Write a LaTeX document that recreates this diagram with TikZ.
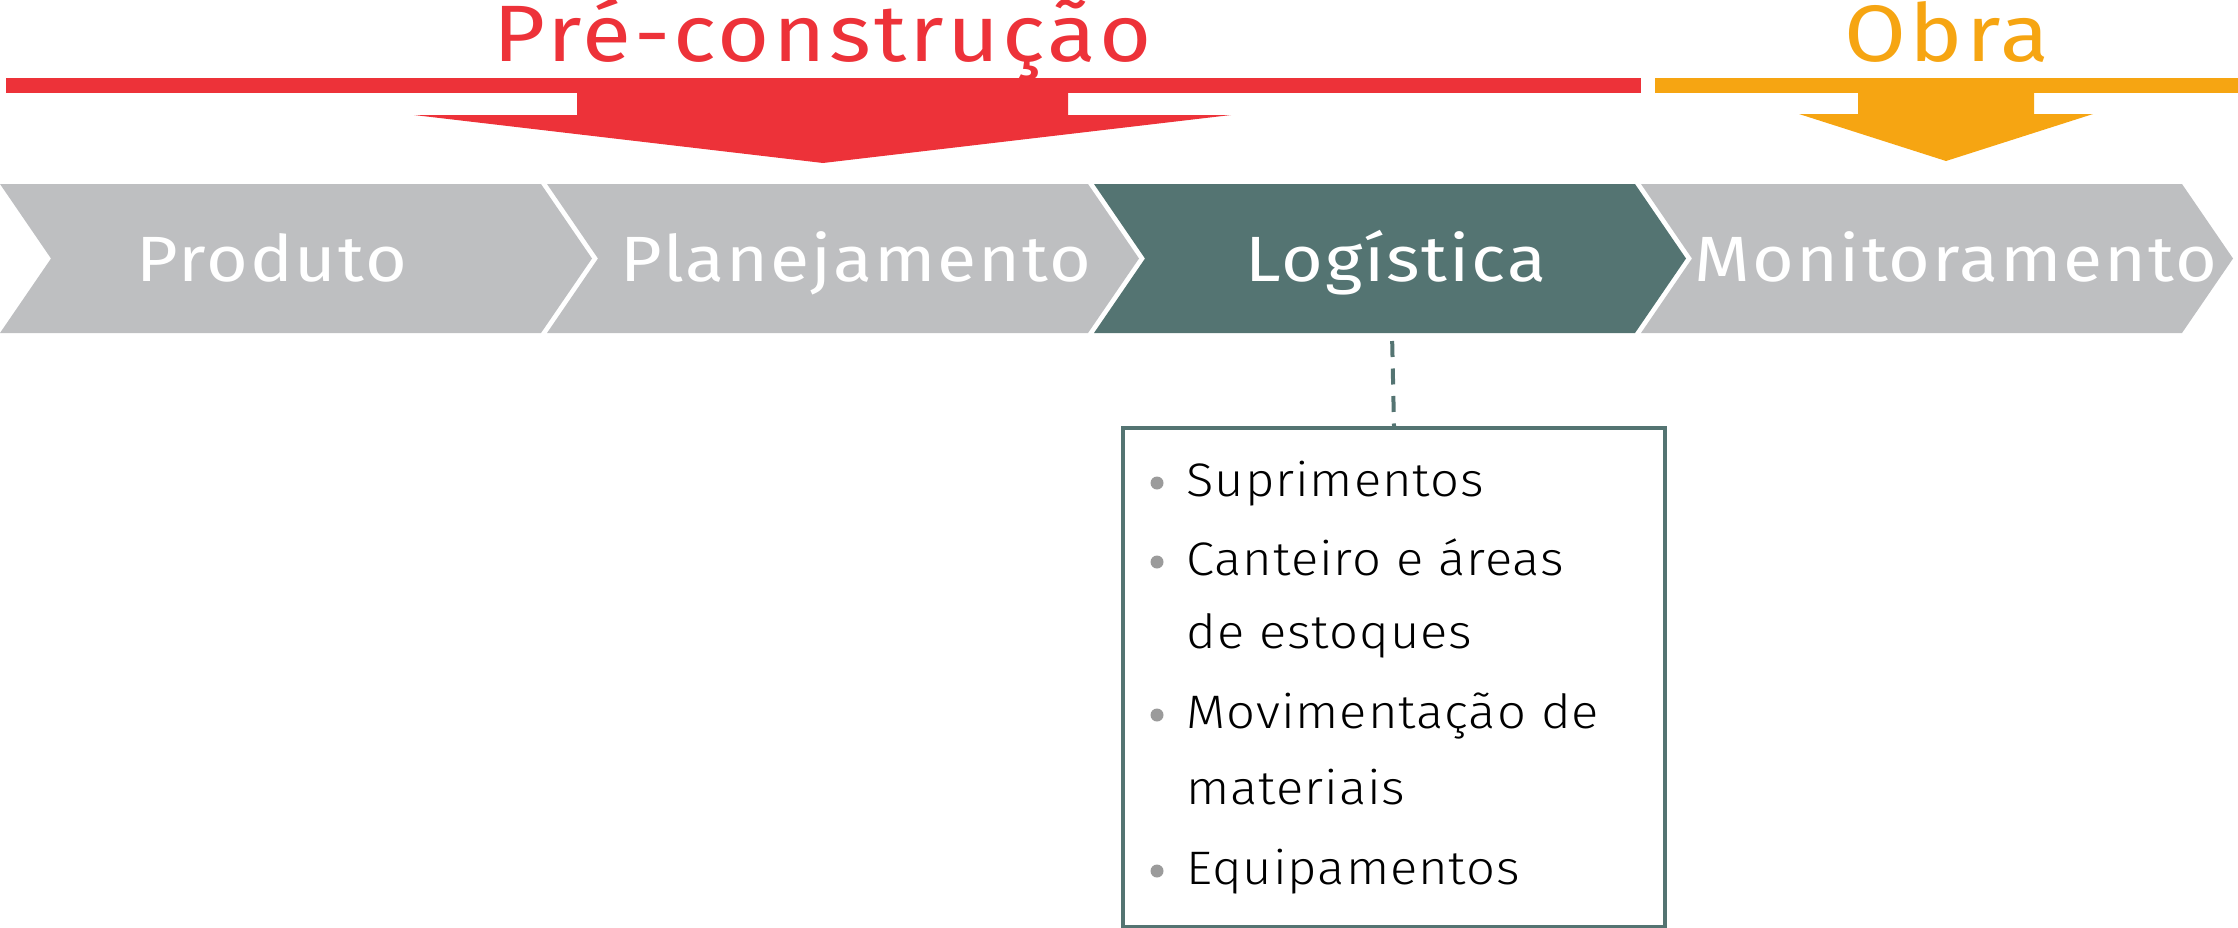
\documentclass[tikz,border=0pt]{standalone}
\usepackage{fontspec}
\setmainfont{Fira Sans}
\newfontfamily\lightfont{Fira Sans Light}
\usetikzlibrary{positioning}

\definecolor{preRed}{RGB}{237,50,57}
\definecolor{obraOrange}{RGB}{246,165,18}
\definecolor{stageGray}{RGB}{190,191,193}
\definecolor{logTeal}{RGB}{84,116,114}
\definecolor{dotGray}{RGB}{155,155,155}

\tikzset{
  phasetitle/.style={anchor=base, inner sep=0pt, font=\fontsize{40}{44}\selectfont\addfontfeature{FakeStretch=1.12,LetterSpace=4}},
  stagetext/.style={anchor=base, inner sep=0pt, text=white, font=\fontsize{32}{36}\selectfont\addfontfeature{FakeStretch=1.12,LetterSpace=3}},
  listbox/.style={draw=logTeal, line width=2pt, anchor=north west, minimum width=271pt, minimum height=249.5pt, inner sep=0pt},
  listitem/.style={anchor=base west, inner sep=0pt, font=\lightfont\fontsize{23.5}{26}\selectfont\addfontfeature{FakeStretch=1.08,LetterSpace=2}},
  listdot/.style={circle, fill=dotGray, minimum size=6.5pt, inner sep=0pt}
}

\begin{document}
\begin{tikzpicture}[x=0.5pt, y=-0.5pt]
  \useasboundingbox (0,0) rectangle (2238,927);

  % phase bars
  \fill[preRed] (6,78) rectangle (1641,93);
  \fill[preRed] (577,93) -- (1068,93) -- (1068,115) -- (1231,115) -- (823,163) -- (414,115) -- (577,115) -- cycle;
  \fill[obraOrange] (1655,78) rectangle (2238,93);
  \fill[obraOrange] (1858,93) -- (2034,93) -- (2034,114) -- (2093,114) -- (1946,161) -- (1799,114) -- (1858,114) -- cycle;
  \node[phasetitle, text=preRed] (pre) at (823,61) {Pré-construção};
  \node[phasetitle, text=obraOrange] (obra) at (1947,61) {Obra};

  % stages
  \foreach \i/\col in {0/stageGray, 1/stageGray, 2/logTeal, 3/stageGray}
    \fill[\col] (\i*547,184) -- (\i*547+541,184) -- (\i*547+592,258.5) -- (\i*547+541,333) -- (\i*547,333) -- (\i*547+51,258.5) -- cycle;
  \foreach \name/\label/\xpos in {prod/Produto/272, plan/Planejamento/856, log/Logística/1396, mon/Monitoramento/1956}
    \node[stagetext] (\name) at (\xpos,281) {\label};
  \coordinate (logbot) at (1392,333);

  % logistics details
  \node[listbox] (box) at (1121,426) {};
  \draw[logTeal, line width=2pt, dash pattern=on 8pt off 5.75pt, shorten <=4pt] (logbot) -- (box.north);
  \foreach \y/\txt/\dot in {496/Suprimentos/1, 575/Canteiro e áreas/1, 648/de estoques/0, 728/Movimentação de/1, 804/materiais/0, 884/Equipamentos/1} {
    \node[listitem] (item\y) at (1186,\y) {\txt};
    \ifnum\dot=1 \node[listdot] (dot\y) at (1157,\y-13) {}; \fi
  }
\end{tikzpicture}
\end{document}
